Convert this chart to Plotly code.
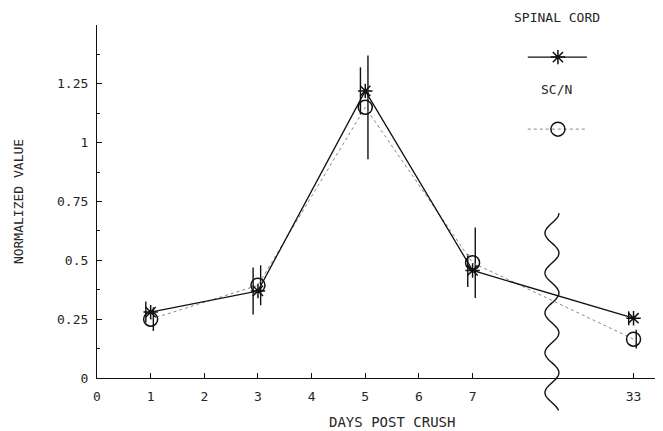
import numpy as np
import plotly.graph_objects as go

# ---- data ----
days = [1, 3, 5, 7, 33]
spinal_cord = [0.28, 0.37, 1.22, 0.457, 0.254]
spinal_cord_err = [0.045, 0.10, 0.10, 0.07, 0.03]
scn = [0.25, 0.394, 1.15, 0.49, 0.165]
scn_err = [0.05, 0.085, 0.22, 0.15, 0.04]

x_tick_days = [0, 1, 2, 3, 4, 5, 6, 7, 33]
y_tick_vals = [0, 0.25, 0.5, 0.75, 1, 1.25]
y_tick_text = ["0", "0.25", "0.5", "0.75", "1", "1.25"]

# broken axis: days after the break are drawn at a compressed position
BREAK_MAP = {33: 10}
BREAK_AT = 8.5


def pos(d):
    return BREAK_MAP.get(d, d)


X_RANGE = [0, 10.4]
Y_RANGE = [0, 1.5]
FONT = "DejaVu Sans Mono"
INK = "#111111"
TEXT = "#262626"
DOT = "#888888"

xp = [pos(d) for d in days]

fig = go.Figure()

# error bars (slightly offset, as in the original plot)
fig.add_trace(go.Scatter(
    x=[v - 0.09 for v in xp], y=spinal_cord, mode="markers",
    marker=dict(size=1, opacity=0), showlegend=False, hoverinfo="skip",
    error_y=dict(type="data", array=spinal_cord_err, color=INK, thickness=1.4, width=0)))
fig.add_trace(go.Scatter(
    x=[v + 0.05 for v in xp], y=scn, mode="markers",
    marker=dict(size=1, opacity=0), showlegend=False, hoverinfo="skip",
    error_y=dict(type="data", array=scn_err, color=INK, thickness=1.4, width=0)))

# series
fig.add_trace(go.Scatter(
    x=xp, y=scn, mode="lines+markers", name="SC/N", showlegend=False,
    line=dict(color=DOT, width=1, dash="dot"),
    marker=dict(symbol="circle-open", size=14, color=INK, line=dict(width=1.5, color=INK))))
fig.add_trace(go.Scatter(
    x=xp, y=spinal_cord, mode="lines+markers", name="SPINAL CORD", showlegend=False,
    line=dict(color=INK, width=1.3),
    marker=dict(symbol="asterisk-open", size=12, color=INK, line=dict(width=1.5, color=INK))))

# custom legend keys on a hidden overlay axis
fig.add_trace(go.Scatter(
    x=[0.772, 0.826, 0.878], y=[0.909, 0.909, 0.909], xaxis="x2", yaxis="y2",
    mode="lines", line=dict(color=INK, width=1.3), showlegend=False, hoverinfo="skip"))
fig.add_trace(go.Scatter(
    x=[0.826], y=[0.909], xaxis="x2", yaxis="y2", mode="markers",
    marker=dict(symbol="asterisk-open", size=12, color=INK, line=dict(width=1.5, color=INK)),
    showlegend=False, hoverinfo="skip"))
fig.add_trace(go.Scatter(
    x=[0.772, 0.826, 0.878], y=[0.705, 0.705, 0.705], xaxis="x2", yaxis="y2",
    mode="lines", line=dict(color=DOT, width=1, dash="dot"), showlegend=False, hoverinfo="skip"))
fig.add_trace(go.Scatter(
    x=[0.826], y=[0.705], xaxis="x2", yaxis="y2", mode="markers",
    marker=dict(symbol="circle-open", size=14, color=INK, line=dict(width=1.5, color=INK)),
    showlegend=False, hoverinfo="skip"))

# wavy break marker (paper coordinates so it can extend below the axis)
bx = (BREAK_AT - X_RANGE[0]) / (X_RANGE[1] - X_RANGE[0])
ys = np.linspace(0.467, -0.092, 200)
xs = bx - 0.002 + 0.0125 * np.sin((ys - 0.467) / 0.113 * 2 * np.pi + np.pi / 2)
path = "M " + " L ".join(f"{a:.5f},{b:.5f}" for a, b in zip(xs, ys))
fig.add_shape(type="path", path=path, xref="paper", yref="paper",
              line=dict(color=INK, width=1.4))

# the page body has an 8px margin, so the figure is sized/offset to compensate
fig.update_layout(
    width=655, height=423,
    margin=dict(l=89, r=8, t=17, b=53),
    paper_bgcolor="white", plot_bgcolor="white",
    font=dict(family=FONT, size=13, color=TEXT),
    xaxis=dict(range=X_RANGE, showgrid=False, zeroline=False,
               showline=True, linecolor=INK, linewidth=1.2,
               ticks="inside", ticklen=5, tickwidth=1.2, tickcolor=INK,
               tickvals=[pos(d) for d in x_tick_days],
               ticktext=[str(d) for d in x_tick_days],
               ticklabelstandoff=6, tickfont=dict(size=13)),
    yaxis=dict(range=Y_RANGE, showgrid=False, zeroline=False,
               showline=True, linecolor=INK, linewidth=1.2,
               ticks="inside", ticklen=5, tickwidth=1.2, tickcolor=INK,
               tickvals=y_tick_vals, ticktext=y_tick_text,
               minor=dict(dtick=0.125, ticks="inside", ticklen=3, tickcolor=INK, tickwidth=1),
               ticklabelstandoff=5, tickfont=dict(size=13),
               title=dict(text="NORMALIZED VALUE", font=dict(size=13), standoff=30)),
    xaxis2=dict(overlaying="x", range=[0, 1], visible=False),
    yaxis2=dict(overlaying="y", range=[0, 1], visible=False),
    annotations=[
        dict(text="DAYS POST CRUSH", xref="paper", yref="paper", x=0.529, y=-0.125,
             showarrow=False, font=dict(size=14), xanchor="center", yanchor="middle"),
        dict(text="SPINAL CORD", xref="paper", yref="paper", x=0.824, y=1.021,
             showarrow=False, font=dict(size=13), xanchor="center", yanchor="middle"),
        dict(text="SC/N", xref="paper", yref="paper", x=0.824, y=0.816,
             showarrow=False, font=dict(size=13), xanchor="center", yanchor="middle"),
    ],
)

fig.write_html("out.html")
